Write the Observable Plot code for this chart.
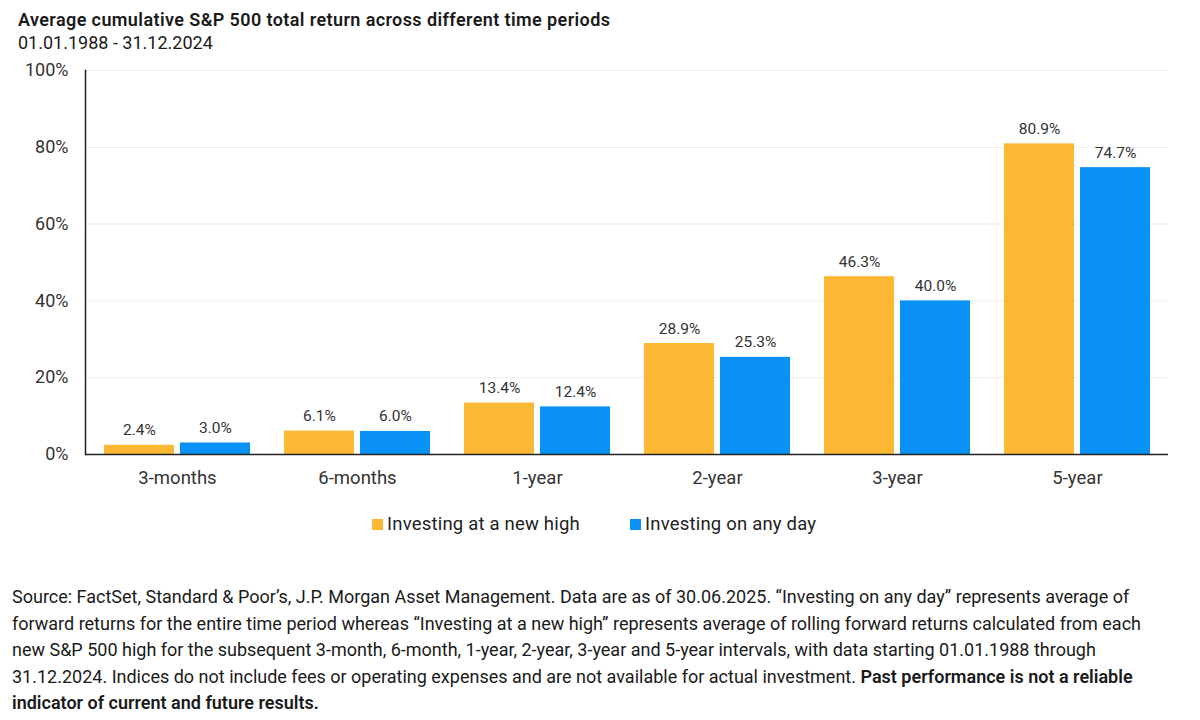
<!DOCTYPE html>
<html>
<head>
<meta charset="utf-8">
<script src="https://cdn.jsdelivr.net/npm/d3@7"></script>
<script src="https://cdn.jsdelivr.net/npm/@observablehq/plot@0.6"></script>
<style>
  html, body { margin: 0; padding: 0; background: #fff; }
  body { width: 1200px; height: 720px; overflow: hidden; position: relative; font-family: Roboto, "Noto Sans", sans-serif; }
  #title { position: absolute; left: 18px; top: 9px; font-weight: 600; font-size: 18px; color: #1a1a1a; letter-spacing: 0.4px; white-space: nowrap; }
  #subtitle { position: absolute; left: 18px; top: 32px; font-size: 18px; color: #1a1a1a; white-space: nowrap; }
  #chart { position: absolute; left: 0; top: 56px; }
  #legend { position: absolute; top: 513px; left: 0; width: 1200px; font-size: 18.5px; letter-spacing: 0.2px; color: #222; }
  .item { position: absolute; display: flex; align-items: center; white-space: nowrap; }
  .sw { width: 11px; height: 11px; margin-right: 4px; }
  #caption { position: absolute; left: 12px; top: 584px; width: 1188px; font-size: 18px; line-height: 26.6px; color: #1a1a1a; white-space: nowrap; }
  #caption b { font-weight: 600; }
</style>
</head>
<body>
<div id="title">Average cumulative S&amp;P 500 total return across different time periods</div>
<div id="subtitle">01.01.1988 - 31.12.2024</div>
<div id="chart"></div>
<div id="legend"></div>
<div id="caption">Source: FactSet, Standard &amp; Poor’s, J.P. Morgan Asset Management. Data are as of 30.06.2025. “Investing on any day” represents average of<br>forward returns for the entire time period whereas “Investing at a new high” represents average of rolling forward returns calculated from each<br>new S&amp;P 500 high for the subsequent 3-month, 6-month, 1-year, 2-year, 3-year and 5-year intervals, with data starting 01.01.1988 through<br>31.12.2024. Indices do not include fees or operating expenses and are not available for actual investment. <b>Past performance is not a reliable<br>indicator of current and future results.</b></div>
<script>
const periods = ["3-months", "6-months", "1-year", "2-year", "3-year", "5-year"];
const seriesNames = ["Investing at a new high", "Investing on any day"];
const newHigh = [2.4, 6.1, 13.4, 28.9, 46.3, 80.9];
const anyDay = [3.0, 6.0, 12.4, 25.3, 40.0, 74.7];
const yTicks = [0, 20, 40, 60, 80, 100];
const colors = ["#FDB833", "#0A91F5"];

const highData = periods.map((p, i) => ({period: p, series: seriesNames[0], value: newHigh[i]}));
const anyData = periods.map((p, i) => ({period: p, series: seriesNames[1], value: anyDay[i]}));
const fmt = d => d.value.toFixed(1) + "%";

const chart = Plot.plot({
  width: 1200,
  height: 438,
  marginLeft: 85,
  marginRight: 32,
  marginTop: 14,
  marginBottom: 40,
  style: {fontFamily: "Roboto, 'Noto Sans', sans-serif", color: "#333", background: "#fff"},
  x: {domain: periods, paddingInner: 0.191, paddingOuter: 0.0997, axis: null},
  y: {domain: [0, 100], ticks: yTicks, axis: null},
  color: {domain: seriesNames, range: colors},
  marks: [
    Plot.gridY(yTicks, {stroke: "#eeeeee", strokeOpacity: 1}),
    Plot.barY(highData, {x: "period", y: "value", fill: "series", insetRight: 76}),
    Plot.barY(anyData, {x: "period", y: "value", fill: "series", insetLeft: 76}),
    Plot.text(highData, {x: "period", y: "value", text: fmt, dx: -38, lineAnchor: "bottom", dy: -10, fontSize: 15.5, fill: "#333", style: "letter-spacing:0.4px"}),
    Plot.text(anyData, {x: "period", y: "value", text: fmt, dx: 38, lineAnchor: "bottom", dy: -10, fontSize: 15.5, fill: "#333", style: "letter-spacing:0.4px"}),
    Plot.ruleY([0], {stroke: "#222", strokeWidth: 1.5}),
    Plot.frame({anchor: "left", stroke: "#222", strokeWidth: 1.5}),
    Plot.axisY(yTicks, {anchor: "left", tickSize: 0, tickPadding: 17, tickFormat: d => d + "%", fontSize: 18, fill: "#333", label: null}),
    Plot.axisX(periods, {anchor: "bottom", tickSize: 0, tickPadding: 16, fontSize: 18.5, fill: "#333", label: null})
  ]
});
document.getElementById("chart").appendChild(chart);

const legend = document.getElementById("legend");
const lefts = [372, 630];
seriesNames.forEach((s, i) => {
  const item = document.createElement("div");
  item.className = "item";
  item.style.left = lefts[i] + "px";
  const sw = document.createElement("div");
  sw.className = "sw";
  sw.style.background = colors[i];
  const t = document.createElement("span");
  t.textContent = s;
  item.appendChild(sw);
  item.appendChild(t);
  legend.appendChild(item);
});
</script>
</body>
</html>
